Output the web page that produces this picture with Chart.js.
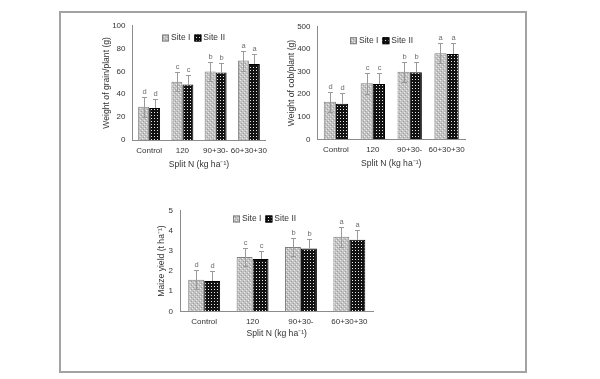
<!DOCTYPE html>
<html>
<head>
<meta charset="utf-8">
<script src="https://cdn.jsdelivr.net/npm/chart.js@4"></script>
<style>
  html, body { margin: 0; padding: 0; background: #fff; }
  #wrap { position: relative; width: 600px; height: 379px; overflow: hidden; }
  #frame { position: absolute; left: 59px; top: 11px; width: 464px; height: 358px; border: 2px solid #a3a3a3; }
  canvas { position: absolute; left: 0; top: 0; }
</style>
</head>
<body>
<div id="wrap">
  <div id="frame"></div>
  <canvas id="grain" width="600" height="379"></canvas>
  <canvas id="cob" width="600" height="379"></canvas>
  <canvas id="yield" width="600" height="379"></canvas>
</div>
<script>
// data
const categories = ["Control", "120", "90+30-", "60+30+30"];
const seriesNames = ["Site I", "Site II"];
const letters = ["d", "c", "b", "a"];

const grainSite1 = [29, 51, 60, 69.5];
const grainSite2 = [28, 48.5, 59, 66.5];
const grainErr1 = [9, 8.5, 8.5, 8.7];
const grainErr2 = [7.5, 8.5, 8.5, 9];

const cobSite1 = [167, 249, 300, 382];
const cobSite2 = [158, 246, 298, 379];
const cobErr1 = [45, 47, 45, 45];
const cobErr2 = [47, 47, 47, 47];

const yieldSite1 = [1.57, 2.7, 3.2, 3.7];
const yieldSite2 = [1.5, 2.6, 3.12, 3.55];
const yieldErr1 = [0.48, 0.47, 0.45, 0.5];
const yieldErr2 = [0.5, 0.42, 0.48, 0.5];

const FONT = '"Liberation Sans", Arial, sans-serif';
const TEXT = "#333333";
const AXIS = "#8c8c8c";

function makePattern(bg, dots, size) {
  const c = document.createElement("canvas");
  c.width = c.height = size;
  const x = c.getContext("2d");
  x.fillStyle = bg;
  x.fillRect(0, 0, size, size);
  dots.forEach(d => { x.fillStyle = d[2]; x.fillRect(d[0], d[1], 1, 1); });
  return x.createPattern(c, "repeat");
}

const pat1 = makePattern("#c2c2c2", [[0, 0, "#ededed"], [2, 2, "#ededed"], [1, 3, "#a0a0a0"], [3, 1, "#a0a0a0"]], 4);
const pat2 = makePattern("#121212", [[1, 1, "#e8e8e8"]], 3);

const errorBars = {
  id: "errorBars",
  afterDatasetsDraw(chart) {
    const ctx = chart.ctx, y = chart.scales.y;
    chart.data.datasets.forEach((ds, i) => {
      chart.getDatasetMeta(i).data.forEach((bar, j) => {
        const v = ds.data[j], e = ds.err[j];
        const top = Math.round(y.getPixelForValue(v + e)) + 0.5;
        const bot = Math.round(y.getPixelForValue(v - e)) + 0.5;
        const x = Math.round(bar.x) + 0.5;
        ctx.save();
        ctx.strokeStyle = "#9a9a9a";
        ctx.lineWidth = 1;
        ctx.beginPath();
        ctx.moveTo(x, top);
        ctx.lineTo(x, ds.lower ? bot : bar.y);
        ctx.moveTo(x - 2.5, top);
        ctx.lineTo(x + 2.5, top);
        if (ds.lower) { ctx.moveTo(x - 2.5, bot); ctx.lineTo(x + 2.5, bot); }
        ctx.stroke();
        ctx.fillStyle = "#6e6e6e";
        ctx.font = "7.5px " + FONT;
        ctx.textAlign = "center";
        ctx.textBaseline = "bottom";
        ctx.fillText(ds.letters[j], x, top - 2);
        ctx.restore();
      });
    });
  }
};

const siteLegend = {
  id: "siteLegend",
  afterDraw(chart, args, opts) {
    const ctx = chart.ctx;
    let x = opts.x;
    const y = opts.y;
    ctx.save();
    ctx.font = "8.5px " + FONT;
    ctx.textBaseline = "middle";
    chart.data.datasets.forEach(ds => {
      ctx.fillStyle = ds.backgroundColor;
      ctx.fillRect(x, y - 3.5, 7, 7);
      ctx.strokeStyle = ds.borderColor;
      ctx.lineWidth = 1;
      ctx.strokeRect(x + 0.5, y - 3, 6, 6);
      x += 9;
      ctx.fillStyle = TEXT;
      ctx.fillText(ds.label, x, y);
      x += ctx.measureText(ds.label).width + 4;
    });
    ctx.restore();
  }
};

function buildChart(id, cfg) {
  const titleSize = 8.6, lh = titleSize * 1.2;
  const padLeft = cfg.yTitleX - lh / 2;
  const yWidth = cfg.area.l - padLeft;
  const xHeight = cfg.xTitleY + lh / 2 - cfg.area.b;
  return new Chart(document.getElementById(id), {
    type: "bar",
    data: {
      labels: categories,
      datasets: [
        { label: seriesNames[0], data: cfg.s1, err: cfg.e1, letters: letters, lower: true,
          backgroundColor: pat1, borderColor: "#7f7f7f", borderWidth: 1 },
        { label: seriesNames[1], data: cfg.s2, err: cfg.e2, letters: letters, lower: false,
          backgroundColor: pat2, borderColor: "#000", borderWidth: 1 }
      ]
    },
    options: {
      responsive: false,
      animation: false,
      events: [],
      datasets: { bar: { categoryPercentage: 0.66, barPercentage: 1 } },
      layout: { padding: { left: padLeft, top: cfg.area.t, right: 600 - cfg.area.r, bottom: 379 - cfg.area.b - xHeight } },
      plugins: {
        legend: { display: false },
        tooltip: { enabled: false },
        siteLegend: { x: cfg.legendX, y: cfg.legendY }
      },
      scales: {
        x: {
          grid: { display: false, drawTicks: false },
          border: { color: AXIS },
          ticks: { color: TEXT, padding: 5.5, autoSkip: false, maxRotation: 0, font: { family: FONT, size: 8 } },
          title: { display: true, text: "Split N (kg ha⁻¹)", color: TEXT, padding: 0, font: { family: FONT, size: titleSize } },
          afterFit: s => { s.height = xHeight; }
        },
        y: {
          min: 0, max: cfg.max,
          grid: { display: false, drawTicks: false },
          border: { color: AXIS },
          ticks: { stepSize: cfg.step, color: TEXT, padding: 7, font: { family: FONT, size: 8 } },
          title: { display: true, text: cfg.yTitle, color: TEXT, padding: 0, font: { family: FONT, size: titleSize } },
          afterFit: s => { s.width = yWidth; }
        }
      }
    },
    plugins: [errorBars, siteLegend]
  });
}

buildChart("grain", {
  s1: grainSite1, s2: grainSite2, e1: grainErr1, e2: grainErr2,
  max: 100, step: 20, yTitle: "Weight of grain/plant (g)",
  area: { l: 132.5, r: 265.5, t: 25.7, b: 140 }, yTitleX: 106.7, xTitleY: 165,
  legendX: 162, legendY: 38
});

buildChart("cob", {
  s1: cobSite1, s2: cobSite2, e1: cobErr1, e2: cobErr2,
  max: 500, step: 100, yTitle: "Weight of cob/plant (g)",
  area: { l: 317.5, r: 465, t: 26.7, b: 139.3 }, yTitleX: 292, xTitleY: 163.3,
  legendX: 350, legendY: 40.7
});

buildChart("yield", {
  s1: yieldSite1, s2: yieldSite2, e1: yieldErr1, e2: yieldErr2,
  max: 5, step: 1, yTitle: "Maize yield (t ha⁻¹)",
  area: { l: 180, r: 373.5, t: 210.7, b: 311.3 }, yTitleX: 161.7, xTitleY: 333.3,
  legendX: 233, legendY: 219
});
</script>
</body>
</html>
